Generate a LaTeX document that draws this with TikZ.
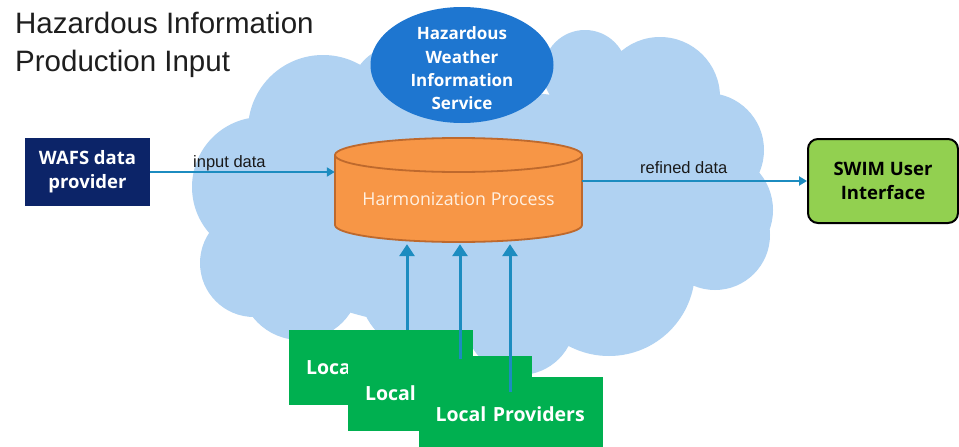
\documentclass[tikz,border=0pt]{standalone}
\usepackage{fontspec}
\setmainfont{Open Sans}
\newfontfamily\arialf{Liberation Sans}
\usetikzlibrary{shapes.geometric,arrows.meta,calc}
\definecolor{cloudc}{RGB}{176,210,242}
\definecolor{hwisc}{RGB}{30,118,208}
\definecolor{wafsc}{RGB}{12,36,104}
\definecolor{swimc}{RGB}{146,208,80}
\definecolor{localc}{RGB}{0,176,80}
\definecolor{arrc}{RGB}{28,140,192}
\definecolor{cylc}{RGB}{247,150,70}
\definecolor{cylb}{RGB}{190,105,45}
\definecolor{cyltxt}{RGB}{255,240,225}
\definecolor{titlec}{RGB}{30,30,30}
\begin{document}
\begin{tikzpicture}[x=1pt,y=-1pt,
  boldtxt/.style={font=\bfseries\fontsize{18.5}{24}\selectfont, align=center},
  localbox/.style={rectangle, fill=localc, minimum height=75pt, inner xsep=17pt, inner ysep=0pt, text width=150pt, align=left, text=white, font=\bfseries\fontsize{19.5}{24}\selectfont},
  harr/.style={draw=arrc, line width=2.5pt, -{Triangle[width=9pt,length=8pt]}},
  varr/.style={draw=arrc, line width=3pt, -{Triangle[width=15pt,length=12pt]}},
  lbl/.style={font=\arialf\fontsize{16.5}{20}\selectfont, text=black!90, inner sep=0pt, anchor=base west},
  ttl/.style={font=\arialf\fontsize{29.5}{36}\selectfont, text=titlec, inner sep=0pt, anchor=base west}
]
\useasboundingbox (0,0) rectangle (959,447);
\fill[white] (0,0) rectangle (959,447);

% cloud
\fill[cloudc]
  (262,187) circle[radius=70pt]
  (254,263) circle[radius=54pt]
  (300,280) circle[radius=60pt]
  (323,130) circle[radius=75pt]
  (400,95) circle[radius=50pt]
  (460,100) circle[radius=70pt]
  (585,72) circle[radius=42pt]
  (660,97) circle[radius=60pt]
  (707,150) circle[radius=57pt]
  (715,210) circle[radius=58pt]
  (715,235) circle[radius=55pt]
  (609,270) circle[radius=86pt]
  (520,320) circle[radius=55pt]
  (420,290) circle[radius=60pt]
  (480,210) ellipse[x radius=250pt, y radius=120pt];

% title
\node[ttl] (title1) at (15,34) {Hazardous Information};
\node[ttl] (title2) at (15,71) {Production Input};

% hazardous weather information service
\node[ellipse, fill=hwisc, minimum width=183pt, minimum height=116pt, inner sep=0pt] (hwis) at (462,65) {};
\node[font=\bfseries\fontsize{17}{23.3}\selectfont, text=white, align=center, inner sep=0pt] (hwistxt) at (462,68.5) {Hazardous\\Weather\\Information\\Service};

% harmonization cylinder
\node[rectangle, minimum width=247pt, minimum height=104pt, inner sep=0pt] (harm) at (458.5,190) {};
\filldraw[fill=cylc, draw=cylb, line width=1.8pt]
  (335,155) -- (335,225) arc[start angle=180, end angle=360, x radius=123.5pt, y radius=17pt]
  -- (582,155) arc[start angle=0, end angle=180, x radius=123.5pt, y radius=17pt] -- cycle;
\draw[draw=cylb, line width=1.8pt] (335,155) arc[start angle=180, end angle=360, x radius=123.5pt, y radius=17pt];
\node[font=\fontsize{17.8}{20}\selectfont, text=cyltxt, inner sep=0pt] (harmtxt) at (458.5,199) {Harmonization Process};

% WAFS
\node[rectangle, fill=wafsc, minimum width=125pt, minimum height=68pt, inner sep=0pt, text=white, boldtxt] (wafs) at (87.5,172) {WAFS data\\provider};

% SWIM
\node[rectangle, rounded corners=10pt, fill=swimc, draw=black, line width=2pt, minimum width=150pt, minimum height=84pt, inner sep=0pt, text=black, boldtxt] (swim) at (883,181) {SWIM User\\Interface};

% horizontal arrows
\draw[harr] (wafs.east) -- (wafs.east -| harm.west);
\node[lbl] (inlbl) at (193,167) {input data};
\draw[harr] (harm.east |- swim.west) -- (swim.west);
\node[lbl] (outlbl) at (640,173) {refined data};

% local providers
\node[localbox] (b1) at (381,367.5) {Loca};
\node[localbox] (b2) at (440,393) {Local};
\node[localbox] (b3) at (510.5,414.5) {Local Providers};

% vertical arrows
\draw[varr] ([xshift=26pt]b1.north) -- ([xshift=-51.5pt,yshift=-2pt]harm.south);
\draw[varr] ([xshift=20pt,yshift=-4pt]b2.north) -- ([xshift=1.5pt,yshift=-2pt]harm.south);
\draw[varr] ([xshift=-0.5pt,yshift=-15pt]b3.north) -- ([xshift=51.5pt,yshift=-2pt]harm.south);
\end{tikzpicture}
\end{document}
